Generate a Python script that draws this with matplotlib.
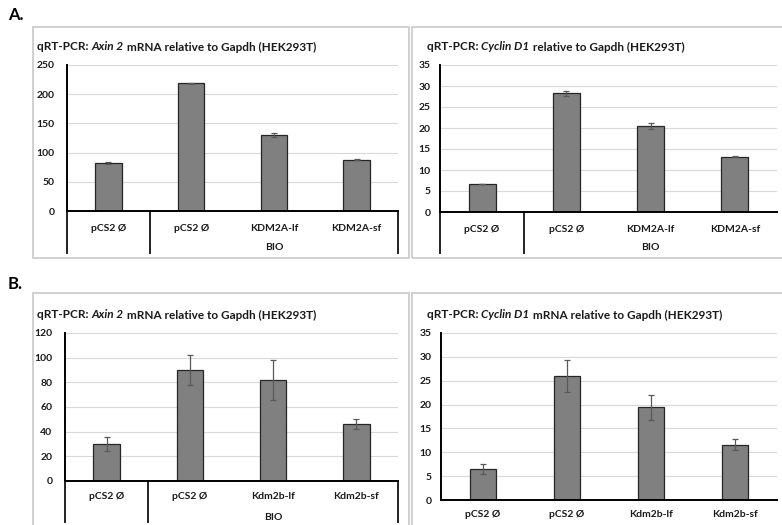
import numpy as np
import matplotlib
matplotlib.use("Agg")
import matplotlib.pyplot as plt
from matplotlib.patches import Rectangle

W, H = 782, 525

# panel A (KDM2A)
a_labels = ["pCS2 Ø", "pCS2 Ø", "KDM2A-lf", "KDM2A-sf"]
a_axin = [82, 219, 130, 88]
a_axin_err = [1.5, 1.0, 3.0, 0.5]
a_cyc = [6.7, 28.3, 20.4, 13.2]
a_cyc_err = [0.05, 0.6, 0.7, 0.1]

# panel B (Kdm2b)
b_labels = ["pCS2 Ø", "pCS2 Ø", "Kdm2b-lf", "Kdm2b-sf"]
b_axin = [30, 90, 82, 46]
b_axin_err = [6, 12.5, 16, 4]
b_cyc = [6.5, 26, 19.4, 11.6]
b_cyc_err = [1.1, 3.4, 2.7, 1.2]

group_label = "BIO"

plt.rcParams['font.family'] = ['Lato', 'DejaVu Sans']

fig = plt.figure(figsize=(W / 100, H / 100), dpi=100)
renderer = fig.canvas.get_renderer()


def rect(x0, y0, x1, y1):
    return [x0 / W, 1 - y1 / H, (x1 - x0) / W, (y1 - y0) / H]


def box(x0, y0, x1, y1):
    fig.patches.append(Rectangle((x0 / W, 1 - y1 / H), (x1 - x0) / W, (y1 - y0) / H,
                                 transform=fig.transFigure, fill=False,
                                 edgecolor='#c8c8c8', lw=1.2))


def title(x, y, parts):
    # draw pieces one after another, some in italic
    for text, style in parts:
        t = fig.text(x / W, 1 - y / H, text, fontsize=8.5, fontweight='bold',
                     style=style, va='center', color='#1a1a1a')
        bb = t.get_window_extent(renderer)
        x = bb.x1


def bar_chart(pos, vals, errs, labels, ymax, step, ypad, xpad, table=None):
    x0, y0, x1, y1 = pos
    ax = fig.add_axes(rect(x0, y0, x1, y1))
    xs = np.arange(len(vals))
    ax.bar(xs, vals, width=0.32, color='#808080', edgecolor='#262626', lw=0.9, zorder=3)
    ax.errorbar(xs, vals, yerr=errs, fmt='none', ecolor='#595959', elinewidth=0.9,
                capsize=2.5, capthick=0.9, zorder=4)
    ax.set_xlim(-0.5, len(vals) - 0.5)
    ax.set_ylim(0, ymax)
    ax.set_yticks(np.arange(0, ymax + 0.1, step))
    ax.yaxis.grid(True, color='#d9d9d9', lw=0.8)
    ax.set_axisbelow(True)
    for s in ['top', 'right']:
        ax.spines[s].set_visible(False)
    ax.spines['bottom'].set_linewidth(1.4)
    ax.spines['left'].set_linewidth(1.4)
    ax.spines['bottom'].set_zorder(5)
    ax.set_xticks(xs)
    ax.set_xticklabels(labels)
    ax.tick_params(axis='y', length=0, labelsize=7.5, pad=ypad, labelcolor='#1a1a1a')
    ax.tick_params(axis='x', length=0, labelsize=7.5, pad=xpad, labelcolor='#1a1a1a')
    for lab in ax.get_xticklabels() + ax.get_yticklabels():
        lab.set_fontweight('bold')
    if table is not None:
        bottom, bio_y, seps = table
        frac = (bottom - y1) / (y1 - y0)
        for s in seps:
            ax.plot([s, s], [0, -frac], transform=ax.get_xaxis_transform(),
                    color='#222222', lw=1.4, clip_on=False, zorder=5)
        ax.text(2, -(bio_y - y1) / (y1 - y0), group_label, transform=ax.get_xaxis_transform(),
                ha='center', va='center', fontsize=7.5, fontweight='bold', color='#1a1a1a')
    return ax


# panel letters
fig.text(8 / W, 1 - 15 / H, "A.", fontsize=12, fontweight='bold', va='center')
fig.text(8 / W, 1 - 284 / H, "B.", fontsize=12, fontweight='bold', va='center')

# outer boxes
box(33, 27, 409, 258)
box(412, 27, 790, 258)
box(33, 293, 409, 535)
box(412, 293, 790, 535)

# A left
bar_chart((67, 65, 398, 211), a_axin, a_axin_err, a_labels, 250, 50, 9, 9,
          table=(253, 247, [-0.5, 0.5, 3.5]))
title(37, 47, [("qRT-PCR: ", 'normal'), ("Axin 2", 'italic'),
               (" mRNA relative to Gapdh (HEK293T)", 'normal')])

# A right
bar_chart((440, 65, 777, 212), a_cyc, a_cyc_err, a_labels, 35, 5, 7, 9,
          table=(253, 247, [-0.5, 0.5]))
title(427, 47, [("qRT-PCR: ", 'normal'), ("Cyclin D1", 'italic'),
                (" relative to Gapdh (HEK293T)", 'normal')])

# B left
bar_chart((65, 333, 398, 481), b_axin, b_axin_err, b_labels, 120, 20, 9, 8,
          table=(522, 517, [-0.5, 0.5, 3.5]))
title(37, 315, [("qRT-PCR: ", 'normal'), ("Axin 2", 'italic'),
                (" mRNA relative to Gapdh (HEK293T)", 'normal')])

# B right
bar_chart((441, 333, 777, 500), b_cyc, b_cyc_err, b_labels, 35, 5, 7, 7)
title(427, 315, [("qRT-PCR: ", 'normal'), ("Cyclin D1", 'italic'),
                 (" mRNA relative to Gapdh (HEK293T)", 'normal')])

fig.savefig("out.png", dpi=100)
